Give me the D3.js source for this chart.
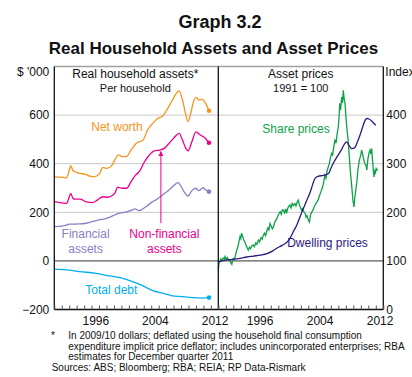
<!DOCTYPE html>
<html>
<head>
<meta charset="utf-8">
<script src="https://cdn.jsdelivr.net/npm/d3@7"></script>
<style>
  body { margin: 0; background: #fff; }
  svg { display: block; font-family: "Liberation Sans", Arial, sans-serif; }
</style>
</head>
<body>
<div id="chart"></div>
<script>
// ---- data ----
// left panel, $'000 per household, [year, value]
let netWorth = [[1991.0,346],[1991.6,345],[1992.2,344],[1992.65,342],[1993.0,372],[1993.2,392],[1993.5,372],[1993.75,367],[1994.4,360],[1995.1,357],[1995.75,349],[1996.4,346],[1997.1,360],[1997.5,385],[1998.0,381],[1998.65,390],[1999.1,415],[1999.65,436],[2000.1,429],[2000.65,429],[2001.3,456],[2002.0,484],[2002.9,497],[2003.5,538],[2004.2,566],[2004.85,586],[2005.55,596],[2006.2,627],[2006.85,662],[2007.55,696],[2007.75,700],[2008.2,662],[2008.65,600],[2008.95,573],[2009.3,607],[2009.75,662],[2010.05,673],[2010.4,662],[2010.85,665],[2011.3,648],[2011.75,618]];
let nonFinancial = [[1991.0,244],[1991.7,240],[1992.65,237],[1993.0,262],[1993.2,278],[1993.5,258],[1993.75,254],[1994.5,254],[1995.2,244],[1996.1,240],[1996.8,251],[1997.5,264],[1998.15,262],[1999.1,278],[1999.5,303],[2000.1,299],[2000.7,299],[2001.3,326],[2001.9,353],[2002.4,367],[2003.1,408],[2003.75,436],[2004.4,453],[2005.1,456],[2005.75,463],[2006.4,484],[2007.1,508],[2007.75,525],[2008.2,497],[2008.65,463],[2008.95,453],[2009.45,490],[2010.0,531],[2010.6,518],[2011.3,504],[2011.75,486]];
let financial = [[1991.0,141],[1992.2,144],[1993.1,151],[1994.4,152],[1995.3,155],[1996.6,166],[1998.0,175],[1999.1,189],[1999.6,196],[2000.2,199],[2000.8,203],[2001.5,210],[2001.8,214],[2002.4,207],[2003.3,223],[2004.2,244],[2004.65,251],[2005.5,271],[2006.4,292],[2007.1,312],[2007.55,322],[2008.0,308],[2008.4,285],[2008.95,267],[2009.45,289],[2009.95,299],[2010.4,289],[2010.95,301],[2011.3,292],[2011.75,285]];
let totalDebt = [[1991.0,-34],[1992.65,-37],[1994.4,-44],[1996.6,-51],[1998.4,-62],[2000.1,-71],[2001.5,-85],[2002.9,-103],[2004.2,-122],[2005.55,-133],[2006.85,-144],[2008.2,-147],[2009.5,-151],[2010.85,-153],[2011.75,-151]];

// right panel, index 1991 = 100
let sharePrices = [[1991.0,82],[1991.1,96],[1991.2,100],[1991.35,104],[1991.5,101],[1991.65,106],[1991.8,104],[1991.9,109],[1992.05,103],[1992.2,107],[1992.35,103],[1992.5,101],[1992.65,97],[1992.8,93],[1992.9,100],[1993.0,105],[1993.15,103],[1993.3,112],[1993.45,122],[1993.6,128],[1993.75,139],[1993.9,150],[1994.0,146],[1994.1,157],[1994.25,150],[1994.4,143],[1994.55,139],[1994.7,132],[1994.85,127],[1995.0,122],[1995.15,128],[1995.3,125],[1995.45,131],[1995.65,133],[1995.8,129],[1996.0,137],[1996.15,134],[1996.35,143],[1996.5,139],[1996.7,148],[1996.85,145],[1997.0,153],[1997.15,157],[1997.3,152],[1997.45,160],[1997.6,168],[1997.75,164],[1997.9,177],[1998.05,172],[1998.2,166],[1998.35,170],[1998.5,178],[1998.65,183],[1998.8,187],[1998.95,193],[1999.1,198],[1999.25,201],[1999.4,196],[1999.55,205],[1999.7,204],[1999.85,199],[2000.0,207],[2000.1,198],[2000.25,208],[2000.4,212],[2000.55,215],[2000.7,209],[2000.85,218],[2001.0,214],[2001.2,218],[2001.35,213],[2001.5,220],[2001.65,225],[2001.8,216],[2001.95,210],[2002.1,204],[2002.25,208],[2002.45,200],[2002.6,197],[2002.7,190],[2002.85,193],[2003.0,184],[2003.15,180],[2003.3,195],[2003.45,200],[2003.6,204],[2003.75,210],[2003.9,215],[2004.1,220],[2004.3,225],[2004.45,232],[2004.6,239],[2004.75,245],[2004.9,252],[2005.05,262],[2005.2,276],[2005.35,270],[2005.5,285],[2005.65,293],[2005.8,300],[2005.95,312],[2006.1,321],[2006.25,318],[2006.4,335],[2006.55,348],[2006.7,342],[2006.85,362],[2007.0,376],[2007.1,395],[2007.2,424],[2007.3,410],[2007.45,437],[2007.55,425],[2007.67,451],[2007.8,430],[2007.9,424],[2008.0,400],[2008.12,376],[2008.3,350],[2008.47,314],[2008.6,285],[2008.8,252],[2008.95,225],[2009.09,211],[2009.2,230],[2009.35,248],[2009.45,259],[2009.6,285],[2009.8,307],[2010.0,318],[2010.12,328],[2010.3,315],[2010.45,305],[2010.56,300],[2010.7,296],[2010.8,287],[2010.95,310],[2011.1,322],[2011.23,328],[2011.35,320],[2011.45,331],[2011.55,310],[2011.65,290],[2011.76,273],[2011.85,285],[2011.95,282],[2012.05,290],[2012.15,287],[2012.2,290]];
let dwellingPrices = [[1991.0,98],[1991.5,100],[1992.1,102],[1993.0,103],[1993.9,105],[1994.8,108],[1995.7,110],[1996.6,112],[1997.5,115],[1998.2,120],[1998.8,126],[1999.5,132],[2000.2,139],[2000.6,148],[2001.0,160],[2001.5,175],[2001.9,191],[2002.4,210],[2002.8,225],[2003.2,239],[2003.6,258],[2003.9,270],[2004.3,274],[2005.0,276],[2005.7,280],[2006.0,290],[2006.3,300],[2006.9,316],[2007.5,331],[2007.8,340],[2008.1,345],[2008.5,336],[2008.8,331],[2009.2,333],[2009.5,343],[2009.9,359],[2010.3,378],[2010.6,390],[2010.8,393],[2011.1,392],[2011.5,387],[2012.0,379]];

// axes
let yearDomain = [1991, 2013];
let labelYears = [1996, 2004, 2012];
let leftTicks = [-200, 0, 200, 400, 600];
let rightTicks = [0, 100, 200, 300, 400];

let footnotes = [
    "In 2009/10 dollars; deflated using the household final consumption",
    "expenditure implicit price deflator; includes unincorporated enterprises; RBA",
    "estimates for December quarter 2011"
];
let sources = "Sources: ABS; Bloomberg; RBA; REIA; RP Data-Rismark";

// ---- layout ----
let width = 412, height = 377;
let plot = {left: 54.3, mid: 218.3, right: 383.3, top: 66.5, bottom: 309.5};

let svg = d3.select("#chart").append("svg")
    .attr("width", width)
    .attr("height", height);

let xL = d3.scaleLinear().domain(yearDomain).range([plot.left, plot.mid]);
let xR = d3.scaleLinear().domain(yearDomain).range([plot.mid, plot.right]);
let yL = d3.scaleLinear().domain([-200, 800]).range([plot.bottom, plot.top]);
let yR = d3.scaleLinear().domain([0, 500]).range([plot.bottom, plot.top]);

// titles
svg.append("text").attr("x", 220).attr("y", 28)
    .attr("text-anchor", "middle").attr("font-size", 18).attr("font-weight", "bold")
    .attr("fill", "#111").text("Graph 3.2");
svg.append("text").attr("x", 213.5).attr("y", 54)
    .attr("text-anchor", "middle").attr("font-size", 17).attr("font-weight", "bold")
    .attr("fill", "#111").text("Real Household Assets and Asset Prices");

// gridlines
let grid = svg.append("g");
[0, 200, 400, 600].forEach(v => {
    grid.append("line")
        .attr("x1", plot.left).attr("x2", plot.right)
        .attr("y1", yL(v)).attr("y2", yL(v))
        .attr("stroke", v === 0 ? "#8a8a8a" : "#c8c8c8")
        .attr("stroke-width", v === 0 ? 1.6 : 1);
});
// top border
grid.append("line")
    .attr("x1", plot.left).attr("x2", plot.right)
    .attr("y1", plot.top).attr("y2", plot.top)
    .attr("stroke", "#a0a0a0").attr("stroke-width", 1.5);

// line generators
let lineL = d3.line().x(d => xL(d[0])).y(d => yL(d[1])).curve(d3.curveMonotoneX);
let lineR = d3.line().x(d => xR(d[0])).y(d => yR(d[1])).curve(d3.curveMonotoneX);
let lineRraw = d3.line().x(d => xR(d[0])).y(d => yR(d[1]));

let leftSeries = [
    {data: netWorth, color: "#F7941D"},
    {data: nonFinancial, color: "#EC008C"},
    {data: financial, color: "#8E7DC3"},
    {data: totalDebt, color: "#00AEEF"}
];

leftSeries.forEach(s => {
    svg.append("path")
        .attr("d", lineL(s.data))
        .attr("fill", "none")
        .attr("stroke", s.color)
        .attr("stroke-width", 1.3);
    let last = s.data[s.data.length - 1];
    svg.append("circle")
        .attr("cx", xL(last[0])).attr("cy", yL(last[1]))
        .attr("r", 2.3).attr("fill", s.color);
});

svg.append("path")
    .attr("d", lineRraw(sharePrices))
    .attr("fill", "none")
    .attr("stroke", "#0DA24A")
    .attr("stroke-width", 1.3);
svg.append("path")
    .attr("d", lineR(dwellingPrices))
    .attr("fill", "none")
    .attr("stroke", "#2B1A7F")
    .attr("stroke-width", 1.3);

// arrow to non-financial line
svg.append("defs").append("marker")
    .attr("id", "arrowhead")
    .attr("viewBox", "0 0 10 10").attr("refX", 9).attr("refY", 5)
    .attr("markerWidth", 5).attr("markerHeight", 5)
    .attr("orient", "auto")
    .append("path").attr("d", "M0,0 L10,5 L0,10 z").attr("fill", "#EC008C");
svg.append("line")
    .attr("x1", xL(2005.3)).attr("x2", xL(2005.3))
    .attr("y1", yL(155)).attr("y2", yL(450))
    .attr("stroke", "#EC008C").attr("stroke-width", 1)
    .attr("marker-end", "url(#arrowhead)");

// frame
let frame = svg.append("g").attr("stroke", "#111").attr("stroke-width", 1.3);
[plot.left, plot.mid, plot.right].forEach(x => {
    frame.append("line").attr("x1", x).attr("x2", x)
        .attr("y1", plot.top).attr("y2", plot.bottom);
});
frame.append("line").attr("x1", plot.left).attr("x2", plot.right)
    .attr("y1", plot.bottom).attr("y2", plot.bottom);

// x axes: yearly ticks pointing up, labels centred on the year
[xL, xR].forEach(x => {
    let years = d3.range(yearDomain[0], yearDomain[1] + 1);
    let ticks = svg.append("g")
        .attr("transform", `translate(0,${plot.bottom})`)
        .call(d3.axisBottom(x).tickValues(years).tickSize(-4).tickFormat(""));
    ticks.select(".domain").remove();
    ticks.selectAll("line").attr("stroke", "#555");

    let labels = svg.append("g")
        .attr("transform", `translate(0,${plot.bottom})`)
        .call(d3.axisBottom(x).tickValues(labelYears.map(y => y + 0.5))
            .tickSize(0).tickPadding(7).tickFormat(d => Math.floor(d)));
    labels.select(".domain").remove();
    labels.selectAll("text").attr("font-size", 12).attr("fill", "#111")
        .attr("font-family", "Liberation Sans, Arial, sans-serif");
});

// y axes
let axL = svg.append("g")
    .attr("transform", `translate(${plot.left},0)`)
    .call(d3.axisLeft(yL).tickValues(leftTicks).tickSize(0).tickPadding(5));
axL.select(".domain").remove();
axL.selectAll("text").attr("font-size", 12).attr("fill", "#111")
    .attr("font-family", "Liberation Sans, Arial, sans-serif");

let axR = svg.append("g")
    .attr("transform", `translate(${plot.right},0)`)
    .call(d3.axisRight(yR).tickValues(rightTicks).tickSize(0).tickPadding(3));
axR.select(".domain").remove();
axR.selectAll("text").attr("font-size", 12).attr("fill", "#111")
    .attr("font-family", "Liberation Sans, Arial, sans-serif");

svg.append("text").attr("x", plot.left - 5).attr("y", 76)
    .attr("text-anchor", "end").attr("font-size", 12).attr("fill", "#111").text("$ '000");
svg.append("text").attr("x", plot.right + 2).attr("y", 76)
    .attr("font-size", 12).attr("fill", "#111").text("Index");

// panel titles
let midL = (plot.left + plot.mid) / 2, midR = (plot.mid + plot.right) / 2;
svg.append("text").attr("x", midL - 1).attr("y", 78)
    .attr("text-anchor", "middle").attr("font-size", 12).attr("fill", "#111")
    .text("Real household assets*");
svg.append("text").attr("x", midL - 1).attr("y", 91.5)
    .attr("text-anchor", "middle").attr("font-size", 11).attr("fill", "#111")
    .text("Per household");
svg.append("text").attr("x", midR).attr("y", 78)
    .attr("text-anchor", "middle").attr("font-size", 12).attr("fill", "#111")
    .text("Asset prices");
svg.append("text").attr("x", midR).attr("y", 91.5)
    .attr("text-anchor", "middle").attr("font-size", 11).attr("fill", "#111")
    .text("1991 = 100");

// series labels
let labelsLeft = [
    {text: ["Net worth"], year: 1999.4, value: 534, color: "#F7941D"},
    {text: ["Financial", "assets"], year: 1995.2, value: 96, color: "#8E7DC3"},
    {text: ["Non-financial", "assets"], year: 2005.76, value: 96, color: "#EC008C"},
    {text: ["Total debt"], year: 1998.65, value: -136, color: "#00AEEF"}
];
labelsLeft.forEach(l => {
    l.text.forEach((t, i) => {
        svg.append("text")
            .attr("x", xL(l.year)).attr("y", yL(l.value) + i * 15.6)
            .attr("text-anchor", "middle").attr("font-size", 12)
            .attr("fill", l.color).text(t);
    });
});
let labelsRight = [
    {text: "Share prices", year: 2001.36, value: 363, color: "#0DA24A"},
    {text: "Dwelling prices", year: 2005.56, value: 129, color: "#2B1A7F"}
];
labelsRight.forEach(l => {
    svg.append("text")
        .attr("x", xR(l.year)).attr("y", yR(l.value))
        .attr("text-anchor", "middle").attr("font-size", 12)
        .attr("fill", l.color).text(l.text);
});

// footnotes
svg.append("text").attr("x", 51).attr("y", 339).attr("font-size", 10).attr("fill", "#111").text("*");
footnotes.forEach((t, i) => {
    svg.append("text").attr("x", 68.3).attr("y", 339 + i * 10.6)
        .attr("font-size", 10).attr("fill", "#111").text(t);
});
svg.append("text").attr("x", 51.7).attr("y", 371)
    .attr("font-size", 10).attr("fill", "#111").text(sources);
</script>
</body>
</html>
